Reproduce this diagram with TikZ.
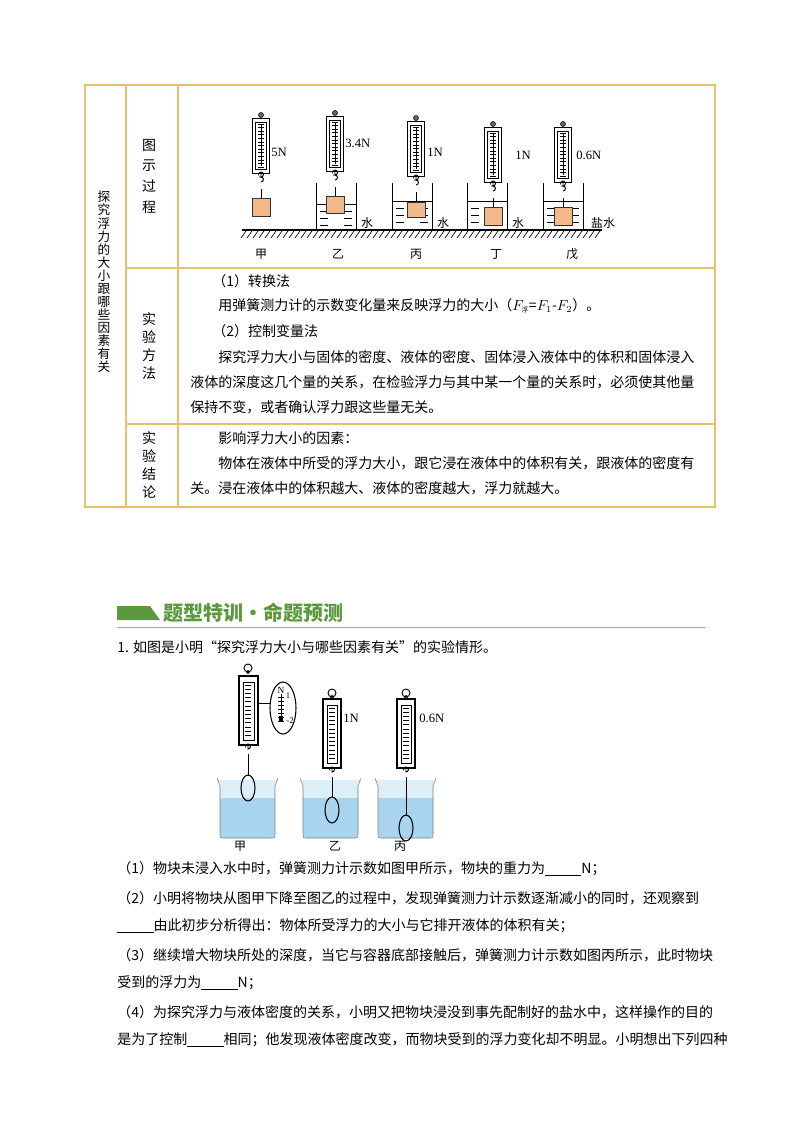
\documentclass[tikz,border=0pt]{standalone}
\usepackage{fontspec}
\setmainfont{Liberation Serif}
\newfontfamily\cjk{Noto Sans CJK SC}
\usetikzlibrary{positioning}
\definecolor{tabgold}{HTML}{E6C26B}
\definecolor{blockfill}{HTML}{F2B98A}
\definecolor{headgreen}{HTML}{5A9A3C}
\definecolor{beakblue}{HTML}{DCEEF8}
\definecolor{waterblue}{HTML}{A8D4F0}
\tikzset{
  txt/.style={anchor=west,inner sep=0pt,font=\cjk\fontsize{10.5}{12}\selectfont},
  vtxt/.style={align=center,inner sep=0pt,font=\cjk\fontsize{10.5}{13.5}\selectfont},
  lab/.style={inner sep=0pt,font=\cjk\fontsize{9}{10}\selectfont},
  nlab/.style={anchor=west,inner sep=0pt,font=\fontsize{9.5}{10}\selectfont},
  block/.style={draw=black!80,fill=blockfill,line width=0.6pt},
}
% spring scale: x, top, bottom
\newcommand{\springscale}[3]{%
  \pgfmathsetmacro\sl{#1-8.5}\pgfmathsetmacro\sr{#1+8.5}%
  \pgfmathsetmacro\dy{(#3-#2-12)/12}%
  \draw[fill=black!60] (#1,#2-3) circle[radius=2.5];
  \draw[line width=0.7pt,fill=white] (\sl,#2) rectangle (\sr,#3);
  \draw[line width=0.5pt] (\sl+3,#2+4) rectangle (\sr-3,#3-4);
  \draw[line width=0.6pt] (#1,#2+7) -- (#1,#3-7);
  \foreach \k in {0,...,12}{\draw[line width=0.5pt] (#1-3,#2+6+\k*\dy) -- (#1+3,#2+6+\k*\dy);}
  \draw[line width=0.7pt] (#1,#3) -- (#1,#3+4) arc[start angle=90,end angle=-200,radius=2.5] ;
  \draw[line width=0.7pt] (#1,#3+9) arc[start angle=90,end angle=-90,radius=2.5] -- ++(-2,0);
}
\begin{document}
\begin{tikzpicture}[x=0.75pt,y=-0.75pt]
\useasboundingbox[fill=white] (0,0) rectangle (800,1132);
% table
\draw[tabgold,line width=1pt] (85,85) rectangle (715,507);
\draw[tabgold,line width=1pt] (126,85) -- (126,507) (178,85) -- (178,507)
  (126,268) -- (715,268) (126,424) -- (715,424);
\node[vtxt,font=\cjk\fontsize{9.5}{9.8}\selectfont] (col1) at (104,282) {探\\究\\浮\\力\\的\\大\\小\\跟\\哪\\些\\因\\素\\有\\关};
\node[vtxt,font=\cjk\fontsize{10.5}{15.5}\selectfont] (row1) at (149,176) {图\\示\\过\\程};
\node[vtxt] (row2) at (149,346) {实\\验\\方\\法};
\node[vtxt] (row3) at (149,465) {实\\验\\结\\论};
\node[txt] (t1) at (212,281) {（1）转换法};
\node[txt] (t2) at (218,306) {用弹簧测力计的示数变化量来反映浮力的大小（$F_{\mbox{\cjk\tiny 浮}}$=$F_1$-$F_2$）。};
\node[txt] (t3) at (212,331) {（2）控制变量法};
\node[txt] (t4) at (218,357) {探究浮力大小与固体的密度、液体的密度、固体浸入液体中的体积和固体浸入};
\node[txt] (t5) at (190,382) {液体的深度这几个量的关系，在检验浮力与其中某一个量的关系时，必须使其他量};
\node[txt] (t6) at (190,407) {保持不变，或者确认浮力跟这些量无关。};
\node[txt] (t7) at (218,438) {影响浮力大小的因素：};
\node[txt] (t8) at (218,463) {物体在液体中所受的浮力大小，跟它浸在液体中的体积有关，跟液体的密度有};
\node[txt] (t9) at (190,488) {关。浸在液体中的体积越大、液体的密度越大，浮力就越大。};
% top figure: ground
\draw[line width=0.8pt] (242,230) -- (602,230);
\foreach \x in {246,252,...,600}{\draw[line width=0.5pt] (\x,231) -- (\x-5,238);}
% beakers with water
\foreach \a/\w in {316/204,392/201,467/201,543/201}{
  \draw[line width=0.6pt] (\a,183) -- (\a,230) (\a+40,183) -- (\a+40,230);
  \draw[line width=0.5pt] (\a,\w) -- (\a+40,\w);
  \foreach \r in {1,2,3}{\draw[line width=0.4pt] (\a+4,\w+\r*7) -- (\a+12,\w+\r*7) (\a+28,\w+\r*7) -- (\a+36,\w+\r*7);}
}
\springscale{261}{118}{173}
\springscale{335}{116}{171}
\springscale{416}{121}{176}
\springscale{493}{127}{182}
\springscale{563}{127}{182}
\foreach \x/\t/\b in {261/189/198,335/187/196,416/192/202,493/198/207,563/198/207}{\draw[line width=0.6pt] (\x,\t) -- (\x,\b);}
\draw[block] (252,198) rectangle (270,216);
\draw[block] (326,196) rectangle (344,213);
\draw[block] (407,202) rectangle (425,217);
\draw[block] (484,207) rectangle (502,225);
\draw[block] (554,207) rectangle (572,225);
\node[nlab] (r1) at (271,152) {5N};
\node[nlab] (r2) at (345,143) {3.4N};
\node[nlab] (r3) at (427,152) {1N};
\node[nlab] (r4) at (515,155) {1N};
\node[nlab] (r5) at (576,155) {0.6N};
\node[lab] (w2) at (367,223) {水};
\node[lab] (w3) at (443,223) {水};
\node[lab] (w4) at (518,223) {水};
\node[lab] (w5) at (603,223) {盐水};
\node[lab] (jia) at (261,254) {甲};
\node[lab] (yi) at (338,254) {乙};
\node[lab] (bing) at (416,254) {丙};
\node[lab] (ding) at (496,254) {丁};
\node[lab] (wu) at (572,254) {戊};
% section header
\fill[headgreen] (117,606) -- (150,606) -- (160,620) -- (117,620) -- cycle;
\node[anchor=west,inner sep=0pt,text=headgreen,font=\cjk\bfseries\fontsize{15}{16}\selectfont] (head) at (163,613) {题型特训·命题预测};
\draw[black!35,line width=0.6pt] (117,627) -- (705,627);
\node[txt] (q0) at (117,647) {1. 如图是小明“探究浮力大小与哪些因素有关”的实验情形。};
% bottom figure: beakers
\foreach \a/\n in {217/A,300/B,375/C}{
  \fill[beakblue] (\a,780) -- (\a+61,780) -- (\a+58,786) -- (\a+58,834) .. controls (\a+58,838) .. (\a+54,838) -- (\a+7,838) .. controls (\a+3,838) .. (\a+3,834) -- (\a+3,786) -- cycle;
  \fill[waterblue] (\a+3,798) -- (\a+58,798) -- (\a+58,834) .. controls (\a+58,838) .. (\a+54,838) -- (\a+7,838) .. controls (\a+3,838) .. (\a+3,834) -- cycle;
  \draw[black!50,line width=0.4pt] (\a,778) -- (\a+3,786) -- (\a+3,834) .. controls (\a+3,838) .. (\a+7,838) -- (\a+54,838) .. controls (\a+58,838) .. (\a+58,834) -- (\a+58,786) -- (\a+61,778);
}
% scale jia
\draw[line width=0.7pt] (248,668) circle[radius=4];
\draw[line width=0.7pt] (248,672) circle[radius=1.5];
\draw[line width=0.8pt] (239,676) rectangle (258,745);
\draw[line width=0.5pt] (243,682) rectangle (254,740);
\foreach \k in {0,...,12}{\draw[line width=0.5pt] (245,685+\k*4.2) -- (251,685+\k*4.2);}
\draw[line width=0.7pt] (248,745) -- (248,749) arc[start angle=90,end angle=-200,radius=2.5];
\draw[line width=0.7pt] (248,754) -- (248,775);
\draw[line width=0.8pt] (248,788) ellipse[x radius=7,y radius=13];
\draw[line width=0.6pt] (258,703) -- (270,703);
\draw[line width=0.8pt,fill=white] (283,708) ellipse[x radius=13,y radius=26];
\draw[line width=0.6pt] (281,694) -- (281,722);
\foreach \k in {0,...,6}{\draw[line width=0.4pt] (278,697+\k*4) -- (284,697+\k*4);}
\fill (279,716) rectangle (283,722);
\node[inner sep=0pt,font=\fontsize{7}{8}\selectfont] (mN) at (281,690) {N};
\node[inner sep=0pt,font=\fontsize{6.5}{8}\selectfont] (m1) at (288,696) {1};
\node[inner sep=0pt,font=\fontsize{6.5}{8}\selectfont] (m2) at (290,721) {-2};
% scales yi, bing
\foreach \x/\e in {332/810,406/828}{
  \draw[line width=0.7pt] (\x,693) circle[radius=4];
  \draw[line width=0.7pt] (\x,697) circle[radius=1.5];
  \draw[line width=0.8pt] (\x-9,699) rectangle (\x+9,768);
  \draw[line width=0.5pt] (\x-5,705) rectangle (\x+5,763);
  \foreach \k in {0,...,12}{\draw[line width=0.5pt] (\x-3,708+\k*4.2) -- (\x+3,708+\k*4.2);}
  \draw[line width=0.7pt] (\x,768) -- (\x,772) arc[start angle=90,end angle=-200,radius=2.5];
  \draw[line width=0.7pt] (\x,777) -- (\x,\e-13);
  \draw[line width=0.8pt] (\x,\e) ellipse[x radius=7,y radius=13];
}
\node[nlab] (b1) at (343,718) {1N};
\node[nlab] (b2) at (419,718) {0.6N};
\node[lab] (bjia) at (240,846) {甲};
\node[lab] (byi) at (335,846) {乙};
\node[lab] (bbing) at (400,846) {丙};
% questions
\node[txt] (q1) at (117,869) {（1）物块未浸入水中时，弹簧测力计示数如图甲所示，物块的重力为\underline{\hspace{2.6em}}N；};
\node[txt] (q2) at (117,898) {（2）小明将物块从图甲下降至图乙的过程中，发现弹簧测力计示数逐渐减小的同时，还观察到};
\node[txt] (q3) at (117,926) {\underline{\hspace{2.6em}}由此初步分析得出：物体所受浮力的大小与它排开液体的体积有关；};
\node[txt] (q4) at (117,955) {（3）继续增大物块所处的深度，当它与容器底部接触后，弹簧测力计示数如图丙所示，此时物块};
\node[txt] (q5) at (117,983) {受到的浮力为\underline{\hspace{2.6em}}N；};
\node[txt] (q6) at (117,1012) {（4）为探究浮力与液体密度的关系，小明又把物块浸没到事先配制好的盐水中，这样操作的目的};
\node[txt] (q7) at (117,1040) {是为了控制\underline{\hspace{2.6em}}相同；他发现液体密度改变，而物块受到的浮力变化却不明显。小明想出下列四种};
\end{tikzpicture}
\end{document}
